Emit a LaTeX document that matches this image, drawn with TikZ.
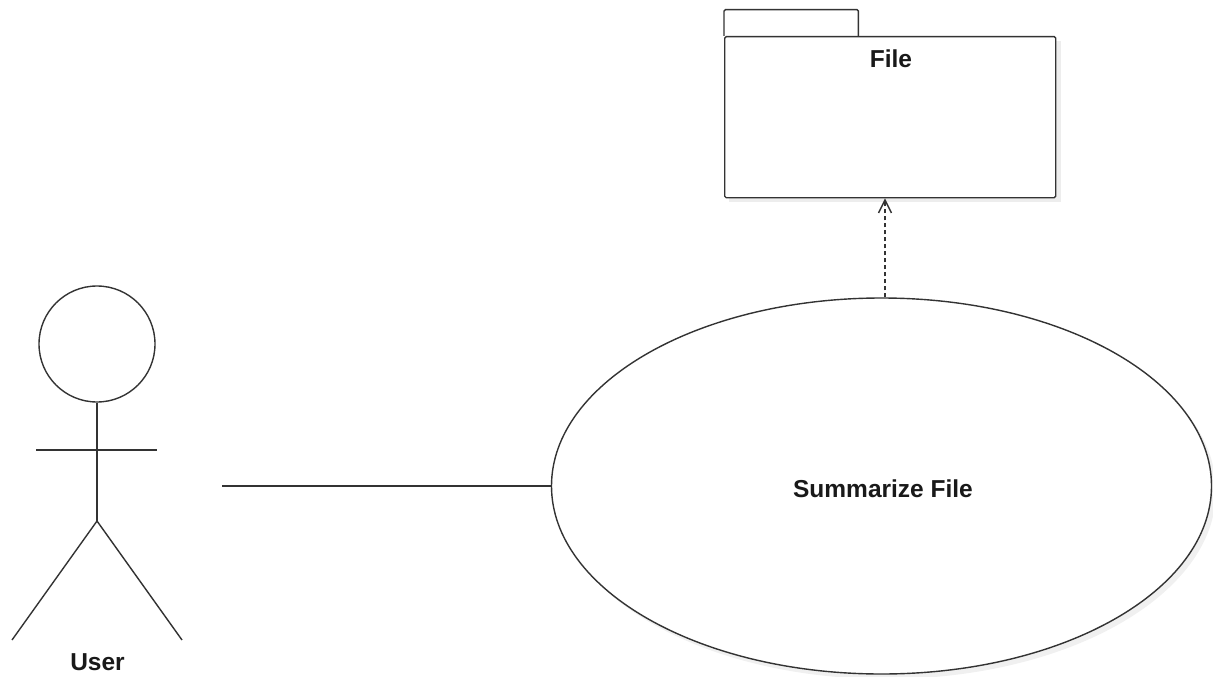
\documentclass[tikz,border=0pt]{standalone}
\usepackage{fontspec}
\setmainfont{Liberation Sans}
\usetikzlibrary{shapes.geometric,arrows.meta}
\tikzset{
  line/.style={draw=black!80, line width=1.4pt},
  lbl/.style={font=\fontsize{24.5}{27}\selectfont\bfseries, inner sep=0pt, text=black!90},
}
\begin{document}
\begin{tikzpicture}[x=1pt,y=-1pt]
\useasboundingbox (0,0) rectangle (1213,677);
% shadows
\fill[black!7] (729,41) rectangle (1061,202);
\fill[black!6] (886,491) ellipse [x radius=330, y radius=188];
% package
\node[minimum width=134pt, minimum height=26pt, inner sep=0pt, anchor=south west] (tab) at (724,36) {};
\draw[line, rounded corners=1.5pt] (tab.south west) -- (tab.north west) -- (tab.north east) -- (tab.south east);
\node[line, fill=white, rounded corners=1.5pt, minimum width=331pt, minimum height=161pt, inner sep=0pt, anchor=north west] (pkg) at (724,36) {};
\node[lbl] (pkgname) at (891,59) {File};
% use case
\node[line, fill=white, ellipse, minimum width=660pt, minimum height=376pt, inner sep=0pt] (uc) at (881.5,486) {};
\node[lbl] (uctext) at (883,489) {Summarize File};
% actor
\node[line, circle, minimum size=116pt, inner sep=0pt] (head) at (97,344) {};
\coordinate (hip) at (97,521);
\coordinate (armL) at (36,450);
\coordinate (armR) at (157,450);
\coordinate (footL) at (12,640);
\coordinate (footR) at (182,640);
\draw[line] (head.south) -- (hip);
\draw[line] (armL) -- (armR);
\draw[line] (footL) -- (hip) -- (footR);
\node[lbl] (actorname) at (97.5,662) {User};
% association
\coordinate (assoc) at (222,486);
\draw[line] (assoc) -- (uc.west);
% dependency
\draw[line, dash pattern=on 4pt off 3pt, -{Straight Barb[length=13pt,width=13pt,line width=1.4pt]}] (uc.north -| 885,0) -- (pkg.south -| 885,0);
\end{tikzpicture}
\end{document}
